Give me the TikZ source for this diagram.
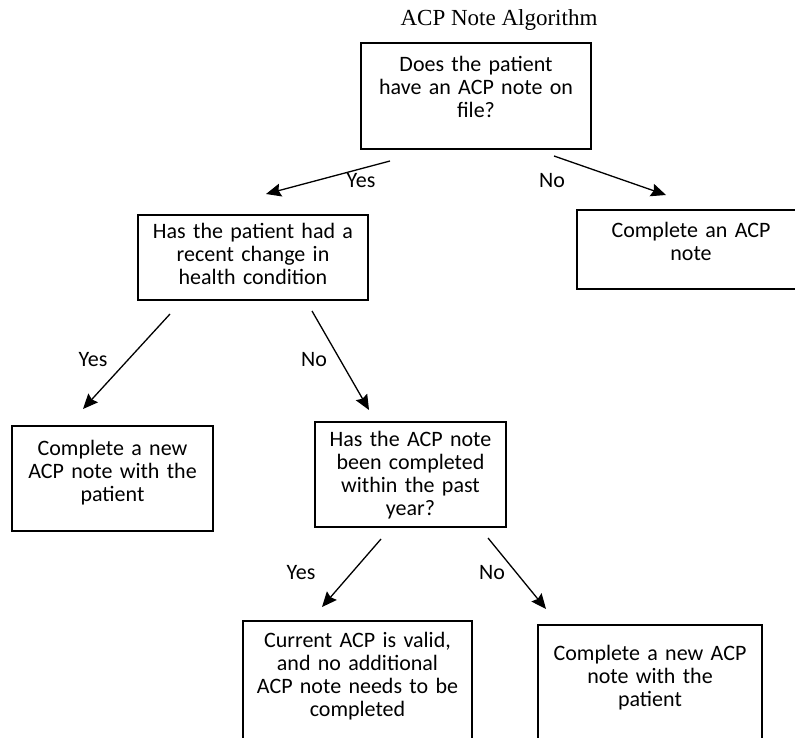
\documentclass[tikz,border=0pt]{standalone}
\usepackage{fontspec}
\setmainfont{Carlito}
\newfontfamily\titlefont{Liberation Serif}
\usetikzlibrary{arrows.meta}

\tikzset{
	box/.style={draw,line width=0.8pt,inner sep=0pt,align=center,anchor=base,
		font=\fontsize{11}{11.5}\selectfont},
	arr/.style={->,>={Stealth[length=7.5pt,width=6.5pt,inset=1pt]},line width=0.65pt},
	lbl/.style={inner sep=0pt,font=\fontsize{11}{11.5}\selectfont},
}

\begin{document}
\begin{tikzpicture}[x=0.5pt,y=-0.5pt]
	\useasboundingbox (0,0) rectangle (795,737);
	
	\node[inner sep=0pt,anchor=base,font=\titlefont\fontsize{11.5}{13}\selectfont] (title) at (499,26) {ACP Note Algorithm};
	
	%questions
	\node[box,text width=115pt,text height=14.5pt,text depth=38.5pt] (hasnote) at (476,72)
		{Does the patient\\have an ACP note on\\file?};
	\node[box,text width=115pt,text height=11.5pt,text depth=31pt] (change) at (253,238)
		{Has the patient had a\\recent change in\\health condition};
	\node[box,text width=95.5pt,text height=12pt,text depth=40.5pt] (pastyear) at (410.5,446)
		{Has the ACP note\\been completed\\within the past\\year?};
	
	%answers
	\node[box,text width=114pt,text height=13.5pt,text depth=26pt] (newnote) at (691,237)
		{Complete an ACP\\note};
	\node[box,text width=100.5pt,text height=14.5pt,text depth=38pt] (redo) at (112.5,455)
		{Complete a new\\ACP note with the\\patient};
	\node[box,text width=114.5pt,text height=13pt,text depth=52pt] (valid) at (357.5,647)
		{Current ACP is valid,\\and no additional\\ACP note needs to be\\completed};
	\node[box,text width=112pt,text height=17.5pt,text depth=46pt] (renew) at (650,660)
		{Complete a new ACP\\note with the\\patient};
	
	%arrow ends
	\coordinate (y1a) at (390,161);	\coordinate (y1b) at (266,194);
	\coordinate (n1a) at (554,156);	\coordinate (n1b) at (666,195);
	\coordinate (y2a) at (170,314);	\coordinate (y2b) at (83,409);
	\coordinate (n2a) at (312,311);	\coordinate (n2b) at (369,410);
	\coordinate (y3a) at (381,539);	\coordinate (y3b) at (322,607);
	\coordinate (n3a) at (488,538);	\coordinate (n3b) at (546,609);
	
	\draw[arr] (y1a) -- (y1b);
	\draw[arr] (n1a) -- (n1b);
	\draw[arr] (y2a) -- (y2b);
	\draw[arr] (n2a) -- (n2b);
	\draw[arr] (y3a) -- (y3b);
	\draw[arr] (n3a) -- (n3b);
	
	\node[lbl] (yes1) at (361,181) {Yes};
	\node[lbl] (no1) at (552,181) {No};
	\node[lbl] (yes2) at (93,360) {Yes};
	\node[lbl] (no2) at (314,360) {No};
	\node[lbl] (yes3) at (301,573) {Yes};
	\node[lbl] (no3) at (492,573) {No};
\end{tikzpicture}
\end{document}
